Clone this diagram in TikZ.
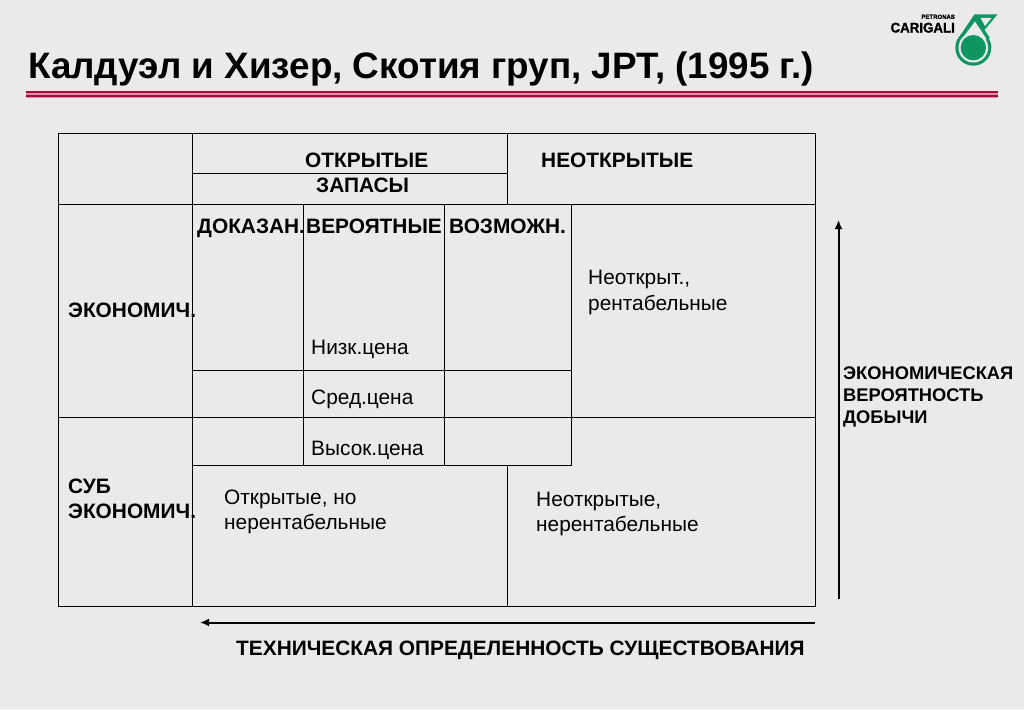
\documentclass[tikz,border=0pt]{standalone}
\usepackage{fontspec}
\setmainfont[BoldFeatures={}]{Liberation Sans}
\newfontfamily\heavyfont[BoldFeatures={FakeBold=1.6}]{Liberation Sans}
\usetikzlibrary{arrows.meta}
\definecolor{bgc}{HTML}{EAEAEA}
\definecolor{rulered}{HTML}{A00F3C}
\definecolor{rulepink}{HTML}{DE8FA5}
\definecolor{logogreen}{HTML}{0F9660}
\tikzset{
  grid line/.style={draw=black,line width=1.25pt,line cap=rect},
  lbl/.style={anchor=base west,inner sep=0pt,font=\fontsize{20.85}{25.5}\selectfont,align=left,text=black},
  blbl/.style={lbl,font=\fontsize{20.85}{25.5}\selectfont\bfseries},
  mlbl/.style={lbl,anchor=west},
  mblbl/.style={blbl,anchor=west},
  axis arrow/.style={draw=black,line width=2pt,-{Latex[length=9pt,width=8pt]}}
}
\begin{document}
\begin{tikzpicture}[x=1pt,y=-1pt]
\useasboundingbox (0,0) rectangle (1024,709);
\fill[bgc] (0,0) rectangle (1024,709);
% title
\node[anchor=base west,inner sep=0pt,font=\fontsize{36.8}{40}\selectfont\bfseries] (title) at (28,78.5) {Калдуэл и Хизер, Скотия груп, JPT, (1995 г.)};
% rule
\fill[rulepink] (26,90.5) rectangle (998,98);
\fill[rulered] (26,91) rectangle (998,93.2);
\fill[rulered] (26,95.2) rectangle (998,97.4);
% logo
\node[anchor=east,inner sep=0pt,font=\fontsize{6}{7}\heavyfont\bfseries] (petronas) at (955,16.8) {PETRONAS};
\node[anchor=east,inner sep=0pt,font=\fontsize{14}{15}\heavyfont\bfseries,xscale=0.95] (carigali) at (955,27.7) {CARIGALI};
\fill[logogreen] (973.3,47.7) circle (18);
\fill[logogreen] (974.5,14.3) -- (997.5,14.3) -- (984.5,30) -- (990,38) -- (956.5,41) -- cycle;
\fill[bgc] (973.3,47.7) circle (14.8);
\fill[bgc] (975,21.5) -- (986.5,39) -- (960,41.5) -- cycle;
\fill[bgc] (980.5,18) -- (991.5,18) -- (985,26) -- cycle;
\fill[logogreen] (973.3,47.7) circle (12.7);
% grid
\draw[grid line] (58.6,133.7) rectangle (815.2,606.5);
\draw[grid line] (192.6,133.7) -- (192.6,606.5);
\draw[grid line] (192.6,173.5) -- (507.5,173.5);
\draw[grid line] (507.5,133.7) -- (507.5,204.8);
\draw[grid line] (58.6,204.8) -- (815.2,204.8);
\draw[grid line] (303.5,204.8) -- (303.5,465.4);
\draw[grid line] (444.5,204.8) -- (444.5,465.4);
\draw[grid line] (571.5,204.8) -- (571.5,465.4);
\draw[grid line] (192.6,370.4) -- (571.5,370.4);
\draw[grid line] (58.6,417.4) -- (815.2,417.4);
\draw[grid line] (192.6,465.4) -- (571.5,465.4);
\draw[grid line] (507.5,465.4) -- (507.5,606.5);
% labels
\node[blbl] (a1) at (305,167.5) {ОТКРЫТЫЕ};
\node[blbl] (a2) at (541,167.5) {НЕОТКРЫТЫЕ};
\node[blbl] (a3) at (316,192.5) {ЗАПАСЫ};
\node[blbl] (b1) at (197,233.5) {ДОКАЗАН.};
\node[blbl] (b2) at (306,233.5) {ВЕРОЯТНЫЕ};
\node[blbl] (b3) at (449,233.5) {ВОЗМОЖН.};
\node[blbl] (c1) at (68,317) {ЭКОНОМИЧ.};
\node[mblbl] (c2) at (68,499) {СУБ\\ЭКОНОМИЧ.};
\node[mlbl] (d1) at (588,292.5) {Неоткрыт.,\\рентабельные};
\node[lbl] (e1) at (311,354) {Низк.цена};
\node[lbl] (e2) at (311,404.5) {Сред.цена};
\node[lbl] (e3) at (311,455) {Высок.цена};
\node[mlbl] (f1) at (224,512) {Открытые, но\\нерентабельные};
\node[mlbl] (f2) at (536,514) {Неоткрытые,\\нерентабельные};
\node[mblbl,font=\fontsize{18.3}{22}\selectfont\bfseries] (g1) at (843,397) {ЭКОНОМИЧЕСКАЯ\\ВЕРОЯТНОСТЬ\\ДОБЫЧИ};
\node[blbl] (g2) at (236,655.5) {ТЕХНИЧЕСКАЯ ОПРЕДЕЛЕННОСТЬ СУЩЕСТВОВАНИЯ};
% arrows
\coordinate (v0) at (838.5,599);
\coordinate (v1) at (838.5,220);
\coordinate (h0) at (815,622.5);
\coordinate (h1) at (200,622.5);
\draw[axis arrow] (v0) -- (v1);
\draw[axis arrow] (h0) -- (h1);
\end{tikzpicture}
\end{document}
